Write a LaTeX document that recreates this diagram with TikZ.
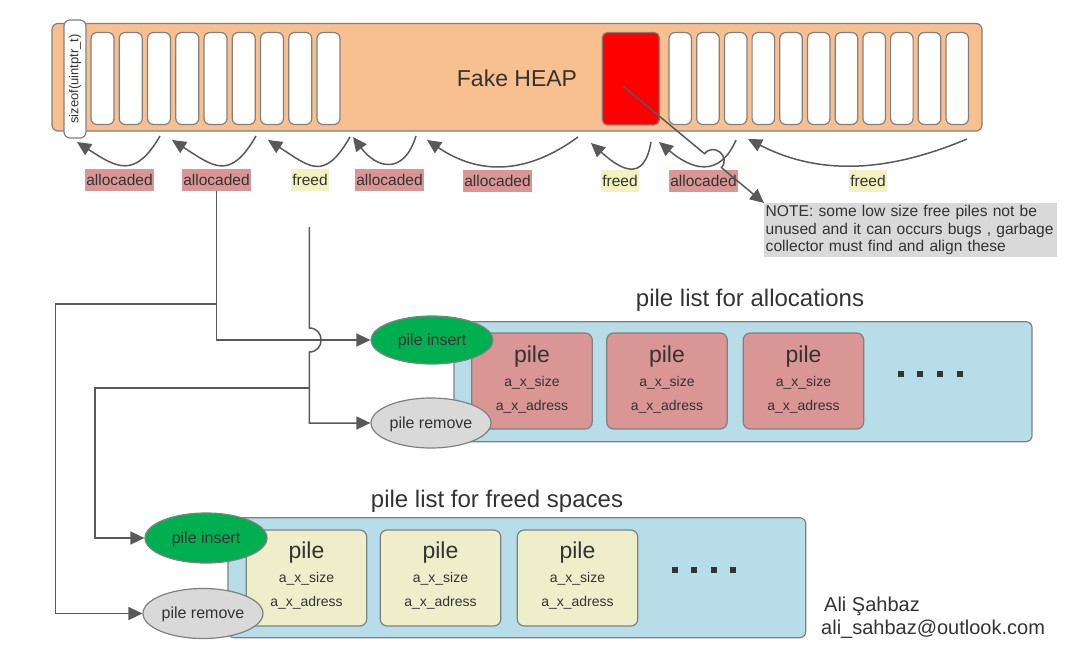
\documentclass[tikz,border=0pt]{standalone}
\usepackage{fontspec}
\setmainfont{Liberation Sans}
\usetikzlibrary{calc,shapes,arrows.meta}

\definecolor{heapfill}{HTML}{F9C08F}
\definecolor{allocfill}{HTML}{D99694}
\definecolor{freedfill}{HTML}{F2F2C0}
\definecolor{pileyellow}{HTML}{EEEECB}
\definecolor{listblue}{HTML}{B7DDE8}
\definecolor{insertgreen}{HTML}{00B050}
\definecolor{removegray}{HTML}{D9D9D9}
\definecolor{notegray}{HTML}{D9D9D9}
\definecolor{linegray}{HTML}{595959}
\definecolor{bordergray}{HTML}{808080}
\definecolor{textgray}{HTML}{333333}

\tikzset{
  heapbox/.style={draw=bordergray, fill=heapfill, line width=1.2pt, rounded corners=6pt},
  cell/.style={draw=bordergray, fill=white, line width=1.2pt, rounded corners=6pt},
  sizebox/.style={draw=bordergray, fill=white, line width=1.2pt, rounded corners=6pt,
    minimum width=118pt, minimum height=22pt, inner sep=0pt,
    font=\fontsize{13}{15}\selectfont, text=textgray},
  tag/.style={font=\fontsize{15.5}{18}\selectfont, text=textgray, inner xsep=1.5pt,
    inner ysep=0pt, minimum height=22pt},
  alloctag/.style={tag, fill=allocfill},
  freedtag/.style={tag, fill=freedfill},
  link/.style={draw=linegray, line width=1.5pt, -{Triangle[length=14pt,width=13pt]}},
  listbox/.style={draw=bordergray, fill=listblue, line width=1.2pt, rounded corners=6pt},
  pilebox/.style={draw=bordergray, line width=1.2pt, rounded corners=7pt,
    minimum width=120.5pt, minimum height=96pt, inner sep=0pt},
  piletitle/.style={font=\fontsize{23}{27}\selectfont, text=textgray, inner sep=0pt},
  pilefield/.style={font=\fontsize{14}{16}\selectfont, text=textgray, inner sep=0pt},
  oval/.style={ellipse, draw=bordergray, line width=1.2pt, inner sep=0pt,
    text height=11pt, text depth=1pt,
    font=\fontsize{16}{18}\selectfont, text=textgray},
  headline/.style={font=\fontsize{24}{28}\selectfont, text=textgray, inner sep=0pt}
}

\begin{document}
\begin{tikzpicture}[x=1pt,y=-1pt]
\useasboundingbox (0,0) rectangle (1074,656);

% fake heap
\draw[heapbox] (52,23.5) rectangle (982,131);
\foreach \i in {0,...,8}
  \draw[cell] ({91+28.25*\i},32.5) rectangle ++(23,92);
\foreach \i in {0,...,10}
  \draw[cell] ({669+27.7*\i},32.5) rectangle ++(22.5,92);
\node[sizebox, rotate=90] (sizeof) at (75,79) {sizeof(uintptr\_t)};
\node[draw=bordergray, fill=red, line width=1.2pt, rounded corners=5pt,
  minimum width=57pt, minimum height=92.5pt, inner sep=0pt] (hole) at (630.8,78.7) {};
\node[font=\fontsize{23}{27}\selectfont, text=textgray, inner sep=0pt] (heapname) at (517,78) {Fake HEAP};

% pieces under the heap
\foreach \sx/\sy/\ax/\ay/\bx/\by/\tx/\ty in {
    160/136/-25/43/40/26/77/142,
    256/136/-26/45/42/27/172/140,
    350/137/-26/45/42/27/268/140,
    416/136/-12/39/24/32/353/137,
    578/137/-52/38/52/35/427/140,
    651/142/-7/41/30/27/591/143,
    736/140/-17/39/32/27/659/142,
    967/139/-76/32/74/38/748/139}
  \draw[link] (\sx,\sy) .. controls +(\ax,\ay) and +(\bx,\by) .. (\tx,\ty);

\node[alloctag] (alloc1) at (119.5,179.5) {allocaded};
\node[alloctag] (alloc2) at (216.5,179.5) {allocaded};
\node[freedtag] (freed1) at (310,179.5) {freed};
\node[alloctag] (alloc3) at (389.5,179.5) {allocaded};
\node[alloctag] (alloc4) at (497.5,180.5) {allocaded};
\node[freedtag] (freed2) at (620,180.5) {freed};
\node[alloctag] (alloc5) at (703.5,180.5) {allocaded};
\node[freedtag] (freed3) at (868,180.5) {freed};

% note
\node[fill=notegray, anchor=north west, text width=290pt, align=left,
  minimum height=54pt, inner xsep=1.5pt, inner ysep=0pt,
  font=\fontsize{15.6}{17.5}\selectfont, text=textgray] (note) at (764,203)
  {NOTE: some low size free piles not be\\unused and it can occurs bugs , garbage\\collector must find and align these};
\coordinate (holept) at (623,86);
\draw[link] (holept) -- (704.5,153.7) .. controls (713.9,142.4) and (730.9,156.4) .. (721.5,167.7)
  -- (note.north west);

% pile list for allocations
\node[headline] (alloctitle) at (750,300) {pile list for allocations};
\draw[listbox] (454,321.7) rectangle (1032,441.7);
\foreach \px [count=\i] in {532,667,803.5} {
  \node[pilebox, fill=allocfill] (apile\i) at (\px,381) {};
  \node[piletitle] (apile\i-name) at ($(apile\i.north)+(0,24)$) {pile};
  \node[pilefield] (apile\i-size) at ($(apile\i.north)+(0,50.5)$) {a\_x\_size};
  \node[pilefield] (apile\i-addr) at ($(apile\i.north)+(0,74.5)$) {a\_x\_adress};
}
\foreach \i in {0,...,3}
  \fill[textgray] ({897.5+19.7*\i},371) rectangle ++(6,6);
\node[oval, fill=insertgreen, minimum width=122pt, minimum height=48pt] (ins1) at (432,340) {pile insert};
\node[oval, fill=removegray, minimum width=120pt, minimum height=50pt] (rem1) at (431,423) {pile remove};

% pile list for freed spaces
\node[headline] (freedtitle) at (497,501) {pile list for freed spaces};
\draw[listbox] (228,517.7) rectangle (805.7,637.7);
\foreach \px [count=\i] in {306.5,440.5,577.5} {
  \node[pilebox, fill=pileyellow] (fpile\i) at (\px,578) {};
  \node[piletitle] (fpile\i-name) at ($(fpile\i.north)+(0,23)$) {pile};
  \node[pilefield] (fpile\i-size) at ($(fpile\i.north)+(0,49.5)$) {a\_x\_size};
  \node[pilefield] (fpile\i-addr) at ($(fpile\i.north)+(0,73.5)$) {a\_x\_adress};
}
\foreach \i in {0,...,3}
  \fill[textgray] ({671.5+19.5*\i},567) rectangle ++(6,6);
\node[oval, fill=insertgreen, minimum width=122pt, minimum height=50pt] (ins2) at (206,538) {pile insert};
\node[oval, fill=removegray, minimum width=120pt, minimum height=50pt] (rem2) at (203,613.5) {pile remove};

% connectors
\coordinate (splitA) at (216.5,304);
\coordinate (freedtap) at (309.3,227);
\coordinate (splitB) at (309.3,388);
\draw[link] (alloc2.south) |- (ins1.west);
\draw[link] (splitA) -- (55.5,304) |- (rem2.west);
\draw[link] (freedtap) -- (309.3,328) .. controls (325,328) and (325,352) .. (309.3,352) |- (rem1.west);
\draw[link] (splitB) -- (95,388) |- (ins2.west);

% signature
\node[anchor=base west, inner sep=0pt, font=\fontsize{20}{24}\selectfont, text=textgray] (author) at (824,611.5) {Ali Şahbaz};
\node[anchor=base west, inner sep=0pt, font=\fontsize{20}{24}\selectfont, text=textgray] (mail) at (821,634) {ali\_sahbaz@outlook.com};
\end{tikzpicture}
\end{document}
